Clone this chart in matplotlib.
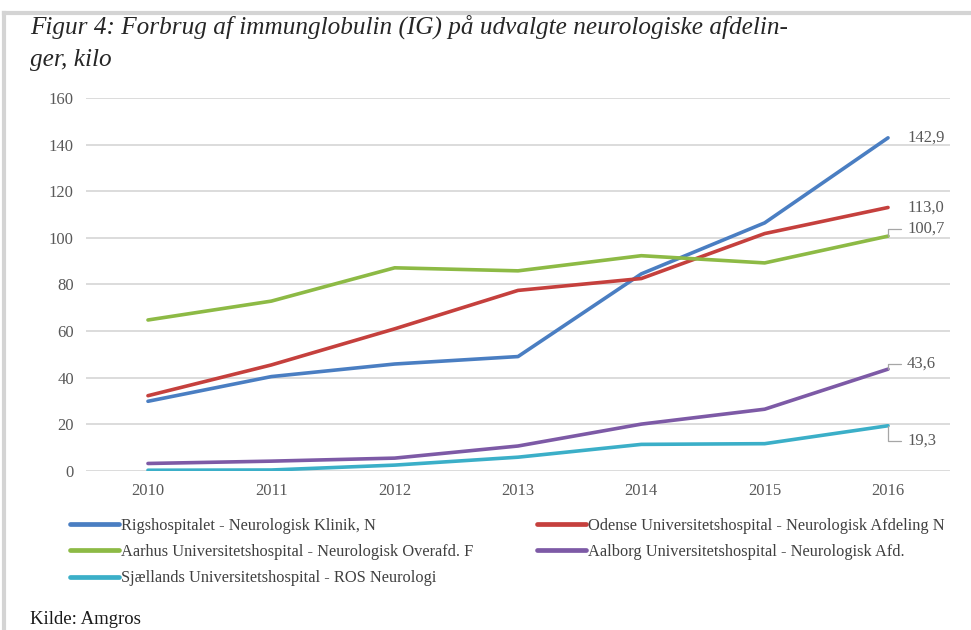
import matplotlib
matplotlib.use("Agg")
import matplotlib.pyplot as plt
from matplotlib.lines import Line2D

years = ["2010", "2011", "2012", "2013", "2014", "2015", "2016"]
rigs = [29.8, 40.4, 45.8, 49.0, 84.5, 106.4, 142.9]
odense = [32.2, 45.4, 60.9, 77.4, 82.5, 101.8, 113.0]
aarhus = [64.7, 72.8, 87.1, 85.8, 92.3, 89.2, 100.7]
aalborg = [3.1, 4.1, 5.4, 10.6, 20.0, 26.4, 43.6]
sjaelland = [0.2, 0.3, 2.4, 5.8, 11.3, 11.6, 19.3]

labels = [
    "Rigshospitalet - Neurologisk Klinik, N",
    "Odense Universitetshospital - Neurologisk Afdeling N",
    "Aarhus Universitetshospital - Neurologisk Overafd. F",
    "Aalborg Universitetshospital - Neurologisk Afd.",
    "Sjællands Universitetshospital - ROS Neurologi",
]
end_labels = ["142,9", "113,0", "100,7", "43,6", "19,3"]
colors = ["#4A7EC2", "#C5403D", "#8DBA45", "#7D5AA6", "#3BAFC8"]
series = [rigs, odense, aarhus, aalborg, sjaelland]

W, H = 971, 630
fig = plt.figure(figsize=(W / 100, H / 100), dpi=100)
serif = ["Liberation Serif", "DejaVu Serif"]

def fx(px):
    return px / W

def fy(py):
    return 1 - py / H

PT = 72 / 100  # points per pixel

ax = fig.add_axes([fx(86.3), fy(470.7), fx(949.7) - fx(86.3), fy(98) - fy(470.7)])
x = list(range(len(years)))
handles = []
for s, c, lab in zip(series, colors, labels):
    h, = ax.plot(x, s, color=c, lw=2.6, solid_capstyle="round", label=lab, zorder=3)
    handles.append(h)

ax.set_xlim(-0.5, len(years) - 0.5)
ax.set_ylim(0, 160)
ax.set_yticks(range(0, 161, 20))
ax.set_xticks(x)
ax.set_xticklabels(years)
ax.grid(axis="y", color="#D9D9D9", lw=1.3)
ax.set_axisbelow(True)
for sp in ax.spines.values():
    sp.set_visible(False)
ax.tick_params(length=0, colors="#595959", labelsize=12)
ax.tick_params(axis="y", pad=9)
ax.tick_params(axis="x", pad=9)
for t in ax.get_xticklabels() + ax.get_yticklabels():
    t.set_fontfamily(serif)

# end labels (offsets in pixels)
offsets = [(19, 0, False), (19, 0, False), (19, 7, True), (19, 5, True), (19, -15, True)]
for s, txt, (dx, dy, lead) in zip(series, end_labels, offsets):
    kw = dict(xy=(x[-1], s[-1]), xytext=(dx * PT, dy * PT), textcoords="offset points",
              ha="left", va="center", fontsize=12, color="#595959", family=serif)
    if lead:
        kw["arrowprops"] = dict(arrowstyle="-", color="#A6A6A6", lw=0.9,
                                connectionstyle="angle,angleA=0,angleB=90,rad=0",
                                shrinkA=2, shrinkB=0)
    ax.annotate(txt, **kw)

# legends
leg_kw = dict(frameon=False, handlelength=3.0, handletextpad=0.1,
              labelspacing=0.62, borderaxespad=0, borderpad=0,
              prop={"family": serif, "size": 11.8})
leg1 = fig.legend([handles[0], handles[2], handles[4]], [labels[0], labels[2], labels[4]],
                  loc="upper left", bbox_to_anchor=(fx(70), fy(518)), **leg_kw)
leg2 = fig.legend([handles[1], handles[3]], [labels[1], labels[3]],
                  loc="upper left", bbox_to_anchor=(fx(537), fy(518)), **leg_kw)
for lg in (leg1, leg2):
    for t in lg.get_texts():
        t.set_color("#404040")
    for l in lg.get_lines():
        l.set_linewidth(3.4)

# title
fig.text(fx(30), fy(27), "Figur 4: Forbrug af immunglobulin (IG) på udvalgte neurologiske afdelin-",
         family=serif, style="italic", fontsize=18.2, color="#262626", va="center", ha="left")
fig.text(fx(30), fy(60), "ger, kilo",
         family=serif, style="italic", fontsize=18.2, color="#262626", va="center", ha="left")
fig.text(fx(30), fy(620), "Kilde: Amgros", family=serif, fontsize=13.5, color="#1a1a1a",
         va="center", ha="left")

# screenshot frame
fig.add_artist(Line2D([fx(4), 1], [fy(13), fy(13)], color="#D4D4D4", lw=3))
fig.add_artist(Line2D([fx(4), fx(4)], [fy(13), 0], color="#D4D4D4", lw=3))

fig.savefig("out.png", dpi=100)
